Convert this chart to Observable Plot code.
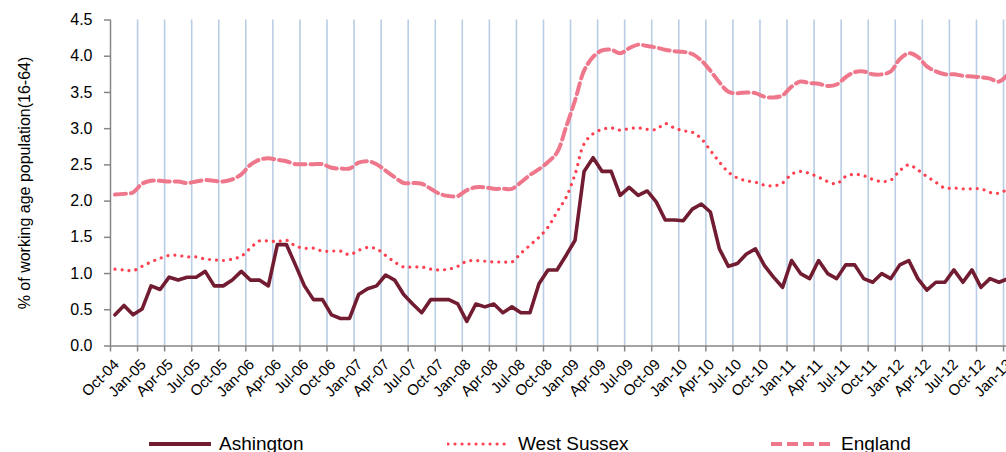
<!DOCTYPE html>
<html><head><meta charset="utf-8">
<script src="https://cdn.jsdelivr.net/npm/d3@7"></script>
<script src="https://cdn.jsdelivr.net/npm/@observablehq/plot@0.6"></script>
<style>
body{margin:0;background:#fff;font-family:"Liberation Sans",Arial,sans-serif;}
#wrap{position:relative;width:1006px;height:452px;overflow:hidden;}
#legend{position:absolute;top:431px;left:0;width:1006px;height:30px;font-size:19px;color:#000;}
.item{position:absolute;top:0;height:26px;display:flex;align-items:center;}
.item svg{margin-right:7px;}
</style></head><body><div id="wrap"><div id="chart"></div><div id="legend"></div></div>
<script>
// Monthly series, Oct-04 (index 0) to Jan-13 (index 99)
const ashington = [
  0.43,0.56,0.43,0.51,0.83,0.78,0.95,0.91,0.95,0.95,1.03,0.83,0.83,0.91,1.03,0.91,0.91,0.83,1.40,1.40,1.12,0.83,0.64,0.64,0.43,
  0.38,0.38,0.71,0.79,0.83,0.98,0.91,0.71,0.58,0.46,0.64,0.64,0.64,0.58,0.34,0.58,0.54,0.58,0.46,0.54,0.46,0.46,0.86,1.05,1.05,
  1.25,1.46,2.41,2.60,2.41,2.41,2.08,2.19,2.08,2.14,1.99,1.74,1.74,1.73,1.89,1.96,1.85,1.34,1.10,1.14,1.27,1.34,1.11,0.95,0.81,
  1.18,1.00,0.93,1.18,1.00,0.93,1.12,1.12,0.93,0.88,1.00,0.93,1.12,1.18,0.93,0.77,0.88,0.88,1.05,0.88,1.05,0.81,0.93,0.88,0.93
];
const westSussex = [
  1.06,1.05,1.04,1.10,1.16,1.21,1.25,1.25,1.23,1.23,1.20,1.19,1.18,1.20,1.24,1.35,1.45,1.45,1.44,1.46,1.38,1.35,1.35,1.31,1.31,
  1.31,1.26,1.32,1.36,1.34,1.25,1.16,1.09,1.09,1.09,1.06,1.05,1.06,1.10,1.17,1.18,1.17,1.16,1.16,1.16,1.28,1.39,1.50,1.64,1.85,
  2.05,2.37,2.79,2.93,2.99,3.01,2.98,3.00,3.01,2.99,2.99,3.07,3.01,2.97,2.95,2.86,2.70,2.54,2.40,2.32,2.28,2.26,2.22,2.21,2.25,
  2.37,2.41,2.38,2.33,2.27,2.24,2.34,2.37,2.35,2.30,2.27,2.29,2.42,2.50,2.43,2.34,2.26,2.18,2.18,2.17,2.17,2.17,2.12,2.11,2.17
];
const england = [
  2.09,2.10,2.12,2.24,2.28,2.28,2.27,2.27,2.25,2.27,2.29,2.28,2.27,2.30,2.37,2.50,2.57,2.59,2.57,2.55,2.51,2.51,2.51,2.51,2.46,
  2.45,2.45,2.53,2.55,2.51,2.42,2.33,2.25,2.25,2.24,2.17,2.10,2.07,2.07,2.15,2.19,2.19,2.17,2.17,2.17,2.26,2.36,2.44,2.54,2.67,
  3.02,3.39,3.80,3.99,4.08,4.09,4.04,4.11,4.16,4.14,4.12,4.09,4.07,4.06,4.03,3.94,3.80,3.64,3.51,3.49,3.50,3.49,3.44,3.43,3.46,
  3.58,3.65,3.63,3.62,3.59,3.61,3.71,3.78,3.79,3.75,3.75,3.79,3.96,4.04,3.99,3.86,3.79,3.75,3.75,3.73,3.72,3.71,3.69,3.65,3.75
];
const quarterLabels = [
  "Oct-04","Jan-05","Apr-05","Jul-05","Oct-05","Jan-06","Apr-06","Jul-06","Oct-06","Jan-07","Apr-07","Jul-07",
  "Oct-07","Jan-08","Apr-08","Jul-08","Oct-08","Jan-09","Apr-09","Jul-09","Oct-09","Jan-10","Apr-10","Jul-10",
  "Oct-10","Jan-11","Apr-11","Jul-11","Oct-11","Jan-12","Apr-12","Jul-12","Oct-12","Jan-13"
];
const yTicks = [0,0.5,1,1.5,2,2.5,3,3.5,4,4.5];
const seriesNames = ["Ashington","West Sussex","England"];
const colors = {"Ashington":"#721c32","West Sussex":"#ff4050","England":"#ef778b"};

const tickPos = quarterLabels.map((_, i) => i * 3);
const toRows = (arr, name) => arr.map((v, i) => ({m: i + 0.5, v, s: name}));
const rowsA = toRows(ashington, seriesNames[0]);
const rowsW = toRows(westSussex, seriesNames[1]);
const rowsE = toRows(england, seriesNames[2]);

const chart = Plot.plot({
  width: 1006,
  height: 420,
  marginLeft: 110,
  marginRight: 0,
  marginTop: 19.5,
  marginBottom: 74.5,
  style: {fontFamily: "'Liberation Sans', Arial, sans-serif", background: "#fff", color: "#000"},
  x: {type: "linear", domain: [0, 99.33]},
  y: {domain: [0, 4.5]},
  marks: [
    Plot.ruleX(tickPos.slice(1), {stroke: "#b9cde5", strokeWidth: 1.6}),
    Plot.line(rowsE, {x: "m", y: "v", stroke: colors["England"], strokeWidth: 4, strokeDasharray: "11 5", curve: "catmull-rom", clip: true}),
    Plot.line(rowsW, {x: "m", y: "v", stroke: colors["West Sussex"], strokeWidth: 3.2, strokeDasharray: "0.01 7", strokeLinecap: "round", curve: "catmull-rom", clip: true}),
    Plot.line(rowsA, {x: "m", y: "v", stroke: colors["Ashington"], strokeWidth: 3.6, strokeLinejoin: "round", clip: true}),
    Plot.ruleY([0], {stroke: "#868686", strokeWidth: 1.5}),
    Plot.ruleX([0], {stroke: "#868686", strokeWidth: 1.5}),
    Plot.axisY({ticks: yTicks, tickFormat: d3.format(".1f"), tickSize: 6, stroke: "#868686", strokeWidth: 1.5, fontSize: 16, tickPadding: 12,
      label: "% of working age population(16-64)", labelAnchor: "center", labelArrow: "none", labelOffset: 92}),
    Plot.axisX({ticks: tickPos, tickSize: 6, stroke: "#868686", strokeWidth: 1.5, fill: "none", label: null}),
    Plot.axisX({ticks: tickPos, tickSize: 0, tickFormat: (d, i) => quarterLabels[i], tickRotate: -45, fontSize: 15, tickPadding: 16, dx: 6, label: null})
  ]
});
document.getElementById("chart").appendChild(chart);

const legendPos = [{name: "Ashington", x: 148}, {name: "West Sussex", x: 447}, {name: "England", x: 770}];
const legend = document.getElementById("legend");
for (const it of legendPos) {
  const div = document.createElement("div");
  div.className = "item";
  div.style.left = it.x + "px";
  let dash = "";
  let w = 4, cap = "butt";
  if (it.name === "West Sussex") { dash = "0.01 7"; w = 3.2; cap = "round"; }
  if (it.name === "England") { dash = "11 5"; w = 4; }
  div.innerHTML = `<svg width="64" height="10"><line x1="1" x2="63" y1="5" y2="5" stroke="${colors[it.name]}" stroke-width="${w}" stroke-dasharray="${dash}" stroke-linecap="${cap}"/></svg><span>${it.name}</span>`;
  legend.appendChild(div);
}
</script></body></html>
